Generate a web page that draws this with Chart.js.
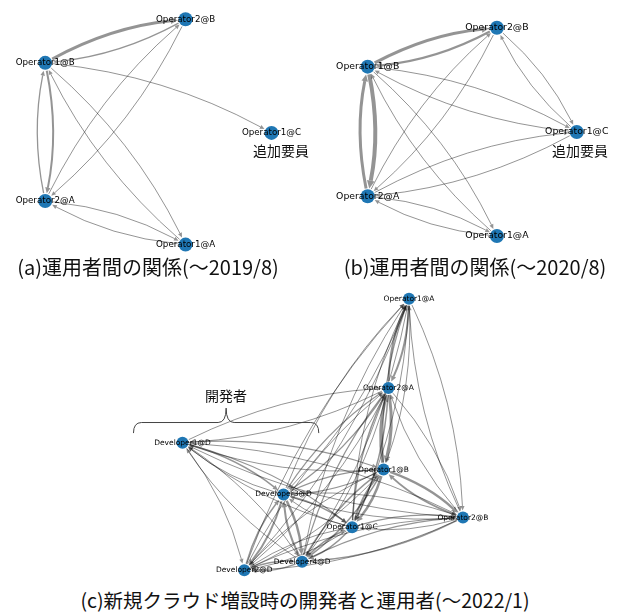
<!DOCTYPE html>
<html>
<head>
<meta charset="utf-8">
<script src="https://cdn.jsdelivr.net/npm/chart.js@4.4.0/dist/chart.umd.min.js"></script>
<style>
  body { margin: 0; background: #fff; }
  #page { position: relative; width: 617px; height: 615px; overflow: hidden; font-family: "Noto Sans CJK JP", sans-serif; color: #111; }
  .panel { position: absolute; }
  .txt { position: absolute; white-space: nowrap; line-height: 1; transform: translateX(-50%); }
  .cap { font-size: 20px; }
  .note { font-size: 14px; }
</style>
</head>
<body>
<div id="page">
  <canvas id="graphA" class="panel" width="310" height="262" style="left:0;top:0"></canvas>
  <canvas id="graphB" class="panel" width="282" height="262" style="left:335px;top:0"></canvas>
  <canvas id="graphC" class="panel" width="617" height="300" style="left:0;top:285px"></canvas>

  <div class="txt note" style="left:281px;top:143px">追加要員</div>
  <div class="txt note" style="left:580px;top:143px">追加要員</div>
  <div class="txt note" style="left:226px;top:388px">開発者</div>

  <div class="txt cap" style="left:148px;top:257px">(a)運用者間の関係(～2019/8)</div>
  <div class="txt cap" style="left:475px;top:257px">(b)運用者間の関係(～2020/8)</div>
  <div class="txt cap" style="left:305px;top:590px;font-size:19.5px">(c)新規クラウド増設時の開発者と運用者(～2022/1)</div>
</div>

<script>
// ── Data: node layouts + directed edges [source, target, weight] ──
// (a) ~2019/8
const aNodes = ['Operator2@B', 'Operator1@B', 'Operator1@C', 'Operator2@A', 'Operator1@A'];
const aX = [187, 40, 277, 40, 187];
const aY = [13, 59, 133, 205, 251];
const aEdges = [
  [1, 0, 3], [0, 1, 1.2],
  [1, 3, 2], [3, 1, 1.3],
  [1, 2, 1],
  [3, 0, 1], [0, 3, 1],
  [1, 4, 1], [4, 1, 1],
  [3, 4, 1], [4, 3, 1],
];

// (b) ~2020/8
const bNodes = ['Operator2@B', 'Operator1@B', 'Operator1@C', 'Operator2@A', 'Operator1@A'];
const bX = [163, 27, 247, 27, 163];
const bY = [22, 63, 132, 200, 242];
const bEdges = [
  [1, 0, 3.2], [0, 1, 2.2],
  [1, 3, 4], [3, 1, 3],
  [1, 2, 1], [2, 1, 1],
  [0, 2, 1], [2, 0, 1],
  [3, 2, 1], [2, 3, 1],
  [3, 0, 1], [0, 3, 1],
  [1, 4, 1], [4, 1, 1],
  [3, 4, 1], [4, 3, 1],
];

// (c) ~2022/1
const cNodes = ['Operator1@A', 'Operator2@A', 'Developer1@D', 'Operator1@B', 'Developer3@D',
                'Operator2@B', 'Operator1@C', 'Developer4@D', 'Developer2@D'];
const cX = [411, 390, 180, 385, 283, 466, 353, 302, 243];
const cY = [8, 101, 158, 186, 212, 236, 246, 282, 291];
const cEdges = [
  [0, 1, 2], [1, 0, 2],
  [0, 3, 1], [3, 0, 1.2],
  [0, 4, 1], [4, 0, 1],
  [0, 5, 1], [5, 0, 1],
  [0, 6, 1], [6, 0, 1],
  [0, 7, 1], [7, 0, 1],
  [0, 8, 1], [8, 0, 1],
  [2, 1, 1], [1, 2, 1],
  [1, 3, 3], [3, 1, 3],
  [1, 4, 1.2], [4, 1, 1.2],
  [1, 5, 1], [5, 1, 1],
  [1, 6, 1.5], [6, 1, 1.5],
  [1, 7, 1], [7, 1, 1.2],
  [1, 8, 1], [8, 1, 1],
  [2, 3, 1.2], [3, 2, 1],
  [2, 4, 1.5], [4, 2, 1],
  [2, 5, 1], [5, 2, 1],
  [2, 6, 1.2], [6, 2, 1],
  [2, 7, 1], [7, 2, 1],
  [2, 8, 1],
  [3, 4, 1.2], [4, 3, 1.2],
  [3, 5, 2.5], [5, 3, 2],
  [3, 6, 2.5], [6, 3, 2],
  [3, 7, 1.5], [7, 3, 1.5],
  [3, 8, 1], [8, 3, 1],
  [4, 5, 1], [5, 4, 1],
  [4, 6, 1.5], [6, 4, 1],
  [4, 7, 2.5], [7, 4, 2],
  [4, 8, 2], [8, 4, 1.5],
  [5, 6, 1], [6, 5, 1.2],
  [5, 7, 1.5], [7, 5, 1.2],
  [5, 8, 1], [8, 5, 1],
  [6, 7, 1.5], [7, 6, 1.5],
  [6, 8, 1], [8, 6, 1],
  [7, 8, 1.5], [8, 7, 1.5],
];

const NODE_COLOR = '#1f77b4';
const EDGE_COLOR = 'rgba(0,0,0,0.42)';

// ── Plugin: curved directed edges under the nodes, labels on top ──
function graphPlugin(g) {
  return {
    id: 'graph',
    beforeDatasetsDraw(chart) {
      const { ctx, scales: { x, y } } = chart;
      const px = g.xs.map(v => x.getPixelForValue(v));
      const py = g.ys.map(v => y.getPixelForValue(v));
      const r = g.radius;
      ctx.save();
      ctx.strokeStyle = EDGE_COLOR;
      ctx.fillStyle = EDGE_COLOR;
      ctx.lineCap = 'butt';
      g.edges.forEach(([s, t, w]) => {
        const x0 = px[s], y0 = py[s], x2 = px[t], y2 = py[t];
        const dx = x2 - x0, dy = y2 - y0;
        // arc3-style control point
        const cx = (x0 + x2) / 2 - g.rad * dy;
        const cy = (y0 + y2) / 2 + g.rad * dx;
        const la = Math.hypot(cx - x0, cy - y0), lb = Math.hypot(x2 - cx, y2 - cy);
        const ax = (cx - x0) / la, ay = (cy - y0) / la;
        const bx = (x2 - cx) / lb, by = (y2 - cy) / lb;
        const sx = x0 + ax * (r + 1), sy = y0 + ay * (r + 1);
        const ex = x2 - bx * (r + 1), ey = y2 - by * (r + 1);
        const hl = 3.5 + w * 1.1, hw = 1.5 + w * 0.6;
        const qx = ex - bx * hl, qy = ey - by * hl;
        ctx.lineWidth = w;
        ctx.beginPath();
        ctx.moveTo(sx, sy);
        ctx.quadraticCurveTo(cx, cy, qx, qy);
        ctx.stroke();
        ctx.beginPath();
        ctx.moveTo(ex, ey);
        ctx.lineTo(qx - by * hw, qy + bx * hw);
        ctx.lineTo(qx + by * hw, qy - bx * hw);
        ctx.closePath();
        ctx.fill();
      });
      if (g.brace) {
        const { x1, x2, yEnd, yLine, yTip } = g.brace;
        const l = x.getPixelForValue(x1), rr = x.getPixelForValue(x2), m = (l + rr) / 2;
        const e = y.getPixelForValue(yEnd), b = y.getPixelForValue(yLine), tp = y.getPixelForValue(yTip);
        const k = 8;
        ctx.strokeStyle = '#444';
        ctx.lineWidth = 1;
        ctx.beginPath();
        ctx.moveTo(l, e);
        ctx.quadraticCurveTo(l, b, l + k, b);
        ctx.lineTo(m - k, b);
        ctx.quadraticCurveTo(m, b, m, tp);
        ctx.quadraticCurveTo(m, b, m + k, b);
        ctx.lineTo(rr - k, b);
        ctx.quadraticCurveTo(rr, b, rr, e);
        ctx.stroke();
      }
      ctx.restore();
    },
    afterDatasetsDraw(chart) {
      const { ctx, scales: { x, y } } = chart;
      ctx.save();
      ctx.fillStyle = '#000';
      ctx.font = g.font;
      ctx.textAlign = 'center';
      ctx.textBaseline = 'middle';
      g.names.forEach((n, i) => {
        ctx.fillText(n, x.getPixelForValue(g.xs[i]), y.getPixelForValue(g.ys[i]));
      });
      ctx.restore();
    }
  };
}

function drawGraph(id, g) {
  const canvas = document.getElementById(id);
  const points = g.xs.map((v, i) => ({ x: v, y: g.ys[i] }));
  new Chart(canvas.getContext('2d'), {
    type: 'scatter',
    data: {
      datasets: [{
        data: points,
        pointRadius: g.radius,
        pointBackgroundColor: NODE_COLOR,
        pointBorderWidth: 0,
        clip: false,
      }]
    },
    options: {
      responsive: false,
      animation: false,
      events: [],
      layout: { padding: 0 },
      scales: {
        x: { display: false, min: 0, max: canvas.width },
        y: { display: false, min: 0, max: canvas.height, reverse: true },
      },
      plugins: { legend: { display: false }, tooltip: { enabled: false } },
    },
    plugins: [graphPlugin(g)],
  });
}

drawGraph('graphA', { names: aNodes, xs: aX, ys: aY, edges: aEdges, radius: 7, rad: -0.1,
  font: '8.7px "DejaVu Sans"' });
drawGraph('graphB', { names: bNodes, xs: bX, ys: bY, edges: bEdges, radius: 7, rad: -0.1,
  font: '9.3px "DejaVu Sans"' });
drawGraph('graphC', { names: cNodes, xs: cX, ys: cY, edges: cEdges, radius: 6, rad: -0.1,
  font: '7.5px "DejaVu Sans"',
  brace: { x1: 130, x2: 319, yEnd: 148, yLine: 137, yTip: 122 } });
</script>
</body>
</html>
